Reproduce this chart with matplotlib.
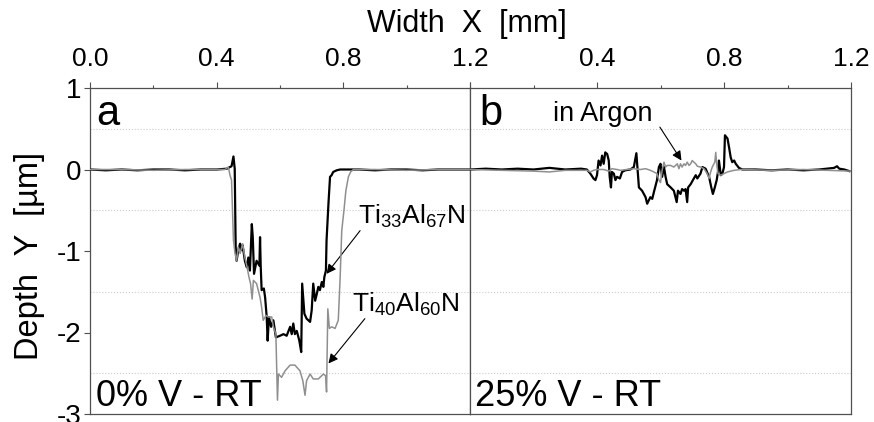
import numpy as np
import matplotlib
matplotlib.use("Agg")
import matplotlib.pyplot as plt
from matplotlib.ticker import MultipleLocator

plt.rcParams['font.family'] = ['Liberation Sans', 'DejaVu Sans']
plt.rcParams['mathtext.default'] = 'regular'

# ---- panel a: 0% V - RT ----
a_black_x = [0.0, 0.05, 0.1, 0.15, 0.2, 0.25, 0.3, 0.35, 0.4, 0.432,
             0.447, 0.453, 0.457, 0.460, 0.463, 0.468, 0.474, 0.479, 0.482, 0.489,
             0.495, 0.500, 0.505, 0.511, 0.514, 0.518, 0.526, 0.535, 0.537, 0.539,
             0.542, 0.549, 0.553, 0.558, 0.561, 0.565, 0.572, 0.579, 0.587, 0.600,
             0.611, 0.621, 0.632, 0.637, 0.642, 0.647, 0.653, 0.661, 0.667, 0.670,
             0.677, 0.684, 0.695, 0.700, 0.705, 0.711, 0.716, 0.721, 0.726, 0.732,
             0.737, 0.740, 0.745, 0.747, 0.753, 0.758, 0.763, 0.768, 0.779, 0.790,
             0.85, 0.9, 0.95, 1.0, 1.05, 1.1, 1.15, 1.2]
a_black_y = [0.0, -0.01, 0.0, -0.01, 0.0, 0.0, -0.01, 0.0, 0.0, 0.01,
             0.04, 0.16, 0.01, -0.95, -1.12, -0.99, -0.91, -0.99, -0.93, -1.12,
             -1.20, -1.08, -1.24, -0.67, -0.83, -1.28, -1.12, -1.18, -0.83, -1.18,
             -1.48, -1.46, -1.57, -1.81, -2.10, -1.81, -1.93, -1.85, -2.06, -2.04,
             -2.02, -2.04, -1.93, -2.02, -1.89, -2.02, -1.98, -2.10, -2.24, -1.40,
             -1.77, -1.83, -1.87, -1.73, -1.40, -1.61, -1.53, -1.44, -1.48, -1.38,
             -1.44, -1.32, -1.24, -0.87, -0.42, -0.09, -0.07, -0.03, -0.01, 0.0,
             0.0, -0.01, 0.0, 0.0, -0.01, 0.0, 0.0, 0.0]

a_gray_x = [0.0, 0.1, 0.2, 0.3, 0.4, 0.426, 0.437, 0.442, 0.447, 0.453,
            0.458, 0.463, 0.468, 0.474, 0.482, 0.489, 0.495, 0.502, 0.507, 0.512,
            0.516, 0.526, 0.537, 0.542, 0.547, 0.556, 0.563, 0.574, 0.579, 0.587,
            0.592, 0.595, 0.605, 0.616, 0.632, 0.647, 0.663, 0.672, 0.679, 0.684,
            0.695, 0.705, 0.721, 0.737, 0.744, 0.747, 0.751, 0.756, 0.763, 0.774,
            0.784, 0.790, 0.795, 0.802, 0.808, 0.816, 0.823, 0.832, 0.9, 1.0,
            1.1, 1.2]
a_gray_y = [0.0, 0.0, -0.01, 0.0, 0.0, 0.0, 0.03, -0.07, -0.13, -0.87,
            -1.03, -1.12, -0.95, -1.03, -0.91, -1.08, -1.18, -1.32, -1.40, -1.59,
            -1.36, -1.40, -1.57, -1.69, -1.85, -1.79, -1.81, -1.81, -1.93, -2.02,
            -2.83, -2.51, -2.55, -2.47, -2.40, -2.40, -2.47, -2.59, -2.77, -2.59,
            -2.51, -2.57, -2.57, -2.51, -2.53, -2.73, -1.71, -1.95, -1.93, -1.95,
            -1.85, -1.32, -0.75, -0.50, -0.26, -0.09, -0.03, 0.0, 0.0, -0.01,
            0.0, 0.0]

# ---- panel b: 25% V - RT ----
b_black_x = [0.0, 0.05, 0.1, 0.15, 0.2, 0.25, 0.3, 0.35, 0.368, 0.379,
             0.389, 0.395, 0.400, 0.405, 0.411, 0.416, 0.421, 0.426, 0.432, 0.437,
             0.440, 0.444, 0.447, 0.453, 0.458, 0.463, 0.472, 0.479, 0.489, 0.505,
             0.516, 0.524, 0.528, 0.532, 0.542, 0.553, 0.558, 0.563, 0.568, 0.574,
             0.579, 0.589, 0.595, 0.600, 0.605, 0.611, 0.616, 0.621, 0.632, 0.642,
             0.651, 0.655, 0.663, 0.668, 0.674, 0.679, 0.684, 0.687, 0.695, 0.705,
             0.711, 0.716, 0.726, 0.732, 0.742, 0.753, 0.760, 0.765, 0.771, 0.777,
             0.781, 0.784, 0.790, 0.795, 0.800, 0.803, 0.811, 0.816, 0.821, 0.826,
             0.832, 0.837, 0.847, 0.858, 0.9, 0.95, 1.0, 1.05, 1.1, 1.147,
             1.156, 1.163, 1.179, 1.195]
b_black_y = [0.0, 0.01, 0.0, 0.01, 0.0, 0.02, 0.0, 0.01, 0.0, -0.05,
             -0.11, -0.13, -0.07, 0.11, 0.05, 0.17, 0.07, 0.21, 0.19, 0.11,
             -0.09, -0.22, -0.03, -0.05, -0.13, -0.09, -0.11, -0.03, -0.01, 0.0,
             0.03, 0.20, -0.01, -0.22, -0.26, -0.34, -0.42, -0.38, -0.34, -0.36,
             -0.28, -0.13, 0.03, 0.07, -0.09, 0.03, -0.09, -0.18, -0.22, -0.26,
             -0.40, -0.26, -0.30, -0.24, -0.26, -0.24, -0.40, -0.22, -0.18, -0.11,
             -0.07, -0.11, -0.05, 0.03, 0.01, -0.09, -0.22, -0.30, -0.22, -0.13,
             -0.03, 0.11, -0.07, -0.05, 0.03, 0.42, 0.38, 0.27, 0.15, 0.09,
             0.11, 0.07, 0.02, 0.0, 0.0, -0.01, 0.0, -0.01, 0.0, 0.02,
             0.04, 0.01, 0.0, -0.02]

b_gray_x = [0.0, 0.1, 0.2, 0.25, 0.3, 0.368, 0.379, 0.389, 0.400, 0.421,
            0.437, 0.447, 0.463, 0.474, 0.495, 0.516, 0.537, 0.553, 0.568, 0.579,
            0.589, 0.595, 0.600, 0.605, 0.611, 0.616, 0.621, 0.632, 0.642, 0.653,
            0.658, 0.663, 0.668, 0.674, 0.679, 0.684, 0.690, 0.695, 0.700, 0.705,
            0.711, 0.716, 0.726, 0.737, 0.747, 0.753, 0.758, 0.763, 0.771, 0.774,
            0.777, 0.781, 0.790, 0.800, 0.811, 0.821, 0.832, 0.853, 0.95, 1.05,
            1.2]
b_gray_y = [0.0, -0.01, -0.02, -0.03, -0.01, -0.01, -0.03, -0.01, 0.0, 0.0,
            -0.02, 0.01, 0.0, -0.01, 0.0, 0.01, 0.0, 0.01, -0.01, -0.03,
            -0.05, -0.13, -0.16, -0.01, 0.09, 0.03, 0.05, 0.05, 0.03, 0.07,
            0.01, 0.07, 0.03, 0.07, 0.05, 0.09, 0.05, 0.07, 0.11, 0.09,
            0.07, 0.04, 0.03, 0.01, -0.05, -0.11, -0.03, 0.03, 0.09, 0.21,
            0.07, -0.05, -0.07, -0.05, -0.03, -0.02, -0.01, 0.0, -0.01, 0.0,
            -0.02]

top_ticks = [0.0, 0.4, 0.8, 1.2]
top_labels_a = ['0.0', '0.4', '0.8', '1.2']
top_labels_b = ['', '0.4', '0.8', '1.2']
y_ticks = [1, 0, -1, -2, -3]

GRAY = '#8f8f8f'
SPINE = '#505050'
fig = plt.figure(figsize=(8.74, 4.22), dpi=100)
ax_a = fig.add_axes([90 / 874, 1 - 414 / 422, 380 / 874, 326 / 422])
ax_b = fig.add_axes([470 / 874, 1 - 414 / 422, 381 / 874, 326 / 422])

for ax, labels in ((ax_a, top_labels_a), (ax_b, top_labels_b)):
    ax.set_xlim(0, 1.2)
    ax.set_ylim(-3, 1)
    ax.xaxis.tick_top()
    ax.set_xticks(top_ticks)
    ax.set_xticklabels(labels, fontsize=19)
    ax.xaxis.set_minor_locator(MultipleLocator(0.2))
    ax.tick_params(axis='x', which='major', direction='out', length=4, width=0.8,
                   color=SPINE, pad=8)
    ax.tick_params(axis='x', which='minor', direction='out', length=2.5, width=0.8, color=SPINE)
    ax.yaxis.set_minor_locator(MultipleLocator(0.5))
    ax.grid(True, which='minor', axis='y', linestyle=':', color='#cccccc', linewidth=0.8)
    for s in ax.spines.values():
        s.set_linewidth(0.9)
        s.set_color(SPINE)

ax_a.set_yticks(y_ticks)
ax_a.set_yticklabels([str(v) for v in y_ticks], fontsize=20)
ax_a.tick_params(axis='y', which='major', direction='out', length=4, pad=2, color=SPINE)
ax_a.tick_params(axis='y', which='minor', length=0)
ax_b.set_yticks(y_ticks)
ax_b.tick_params(axis='y', which='both', length=0, labelleft=False)

ax_a.plot(a_black_x, a_black_y, color='black', lw=1.6, zorder=3)
ax_a.plot(a_gray_x, a_gray_y, color=GRAY, lw=1.1, zorder=4)
ax_b.plot(b_black_x, b_black_y, color='black', lw=1.6, zorder=3)
ax_b.plot(b_gray_x, b_gray_y, color=GRAY, lw=1.1, zorder=4)

arrow = dict(arrowstyle='-|>', color='black', lw=0.8, mutation_scale=14, shrinkA=0, shrinkB=0)
ax_a.text(0.846, -0.67, r'Ti$_{33}$Al$_{67}$N', fontsize=19, ha='left', va='baseline')
ax_a.annotate('', xy=(0.747, -1.28), xytext=(0.853, -0.75), arrowprops=arrow)
ax_a.text(0.827, -1.75, r'Ti$_{40}$Al$_{60}$N', fontsize=19, ha='left', va='baseline')
ax_a.annotate('', xy=(0.753, -2.38), xytext=(0.868, -1.83), arrowprops=arrow)
ax_b.text(0.262, 0.59, 'in Argon', fontsize=19.5, ha='left', va='baseline')
ax_b.annotate('', xy=(0.666, 0.11), xytext=(0.598, 0.52), arrowprops=arrow)

ax_a.text(0.02, 0.54, 'a', fontsize=30, ha='left', va='baseline')
ax_b.text(0.03, 0.54, 'b', fontsize=30, ha='left', va='baseline')
ax_a.text(0.02, -2.90, '0% V - RT', fontsize=26, ha='left', va='baseline')
ax_b.text(0.016, -2.90, '25% V - RT', fontsize=26, ha='left', va='baseline')

fig.text(467 / 874, 1 - 24 / 422, 'Width  X  [mm]', fontsize=22, ha='center', va='center')
fig.text(30 / 874, 1 - 256 / 422, 'Depth  Y  [µm]', fontsize=23.5, ha='center', va='center',
         rotation=90)

fig.savefig('out.png', dpi=100)
